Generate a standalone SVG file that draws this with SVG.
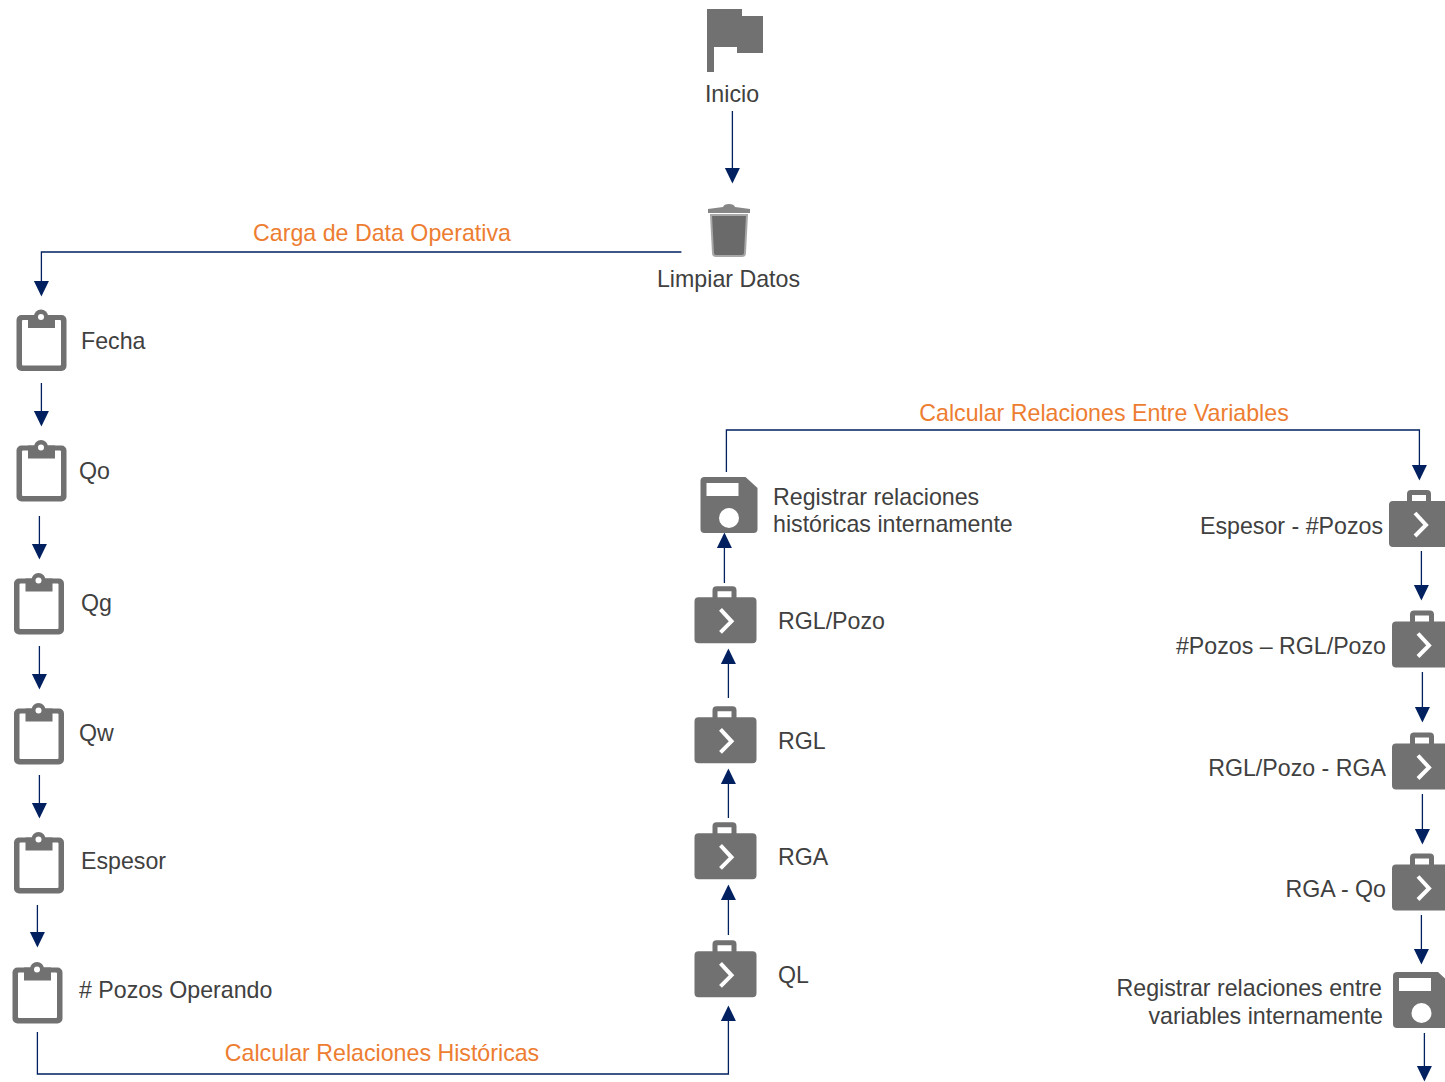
<svg xmlns="http://www.w3.org/2000/svg" xmlns:xlink="http://www.w3.org/1999/xlink" width="1445" height="1082" viewBox="0 0 1445 1082">
<style>
text{font-family:"Liberation Sans",Arial,sans-serif;font-size:23.2px;fill:#404040}
.o{fill:#ED7D31}
.e{text-anchor:end}
.c{text-anchor:middle}
.ln{fill:none;stroke:#002060;stroke-width:1.3;marker-end:url(#ah)}
.g{fill:#717171}
.w{fill:#fff}
.ch{fill:none;stroke:#fff;stroke-width:4}
</style>
<defs>
<marker id="ah" markerUnits="userSpaceOnUse" markerWidth="16" markerHeight="16" refX="0" refY="8" orient="auto"><path d="M0 0.5L15.5 8L0 15.5Z" fill="#002060"/></marker>
<g id="clip"><rect class="g" x="0.500" y="6" width="50" height="56" rx="5"/><rect class="w" x="6" y="11" width="39" height="45.500" rx="1"/><rect class="g" x="12" y="6" width="27" height="13"/><circle class="g" cx="25" cy="7.500" r="7"/><circle class="w" cx="25" cy="8" r="3"/></g>
<g id="case"><path class="g" d="M18 11V4Q18 0 22 0H38Q42 0 42 4V11H58Q62 11 62 15V53Q62 57 58 57H4Q0 57 0 53V15Q0 11 4 11ZM23 11H37V5H23Z" fill-rule="evenodd"/><path class="ch" d="M26 23L37 35L26 46"/></g>
<g id="disk"><path class="g" d="M4 0H45L57 11V52Q57 56 53 56H4Q0 56 0 52V4Q0 0 4 0Z"/><rect class="w" x="6" y="6" width="32" height="13"/><circle class="w" cx="28.500" cy="41" r="10"/></g>
</defs>
<g id="connectors" transform="translate(0.400 0)">
<path class="ln" d="M732 111V168"/>
<path class="ln" d="M681 252H41V281"/>
<path class="ln" d="M41 383V411"/>
<path class="ln" d="M39 516V544"/>
<path class="ln" d="M39 646V674"/>
<path class="ln" d="M39 775V803"/>
<path class="ln" d="M37 905V932"/>
<path class="ln" d="M37 1032V1074H728V1021"/>
<path class="ln" d="M728 935V900"/>
<path class="ln" d="M728 818V784"/>
<path class="ln" d="M728 698V664"/>
<path class="ln" d="M724 583V548"/>
<path class="ln" d="M726 472V430H1419V465"/>
<path class="ln" d="M1421 551V585"/>
<path class="ln" d="M1422 672V707"/>
<path class="ln" d="M1422 794V829"/>
<path class="ln" d="M1421 915V949"/>
<path class="ln" d="M1424 1033V1066"/>
</g>
<g id="n-inicio"><path class="g" d="M707 9H742V16H763V53H737V47H714V72H707Z"/><text class="c" x="732" y="102">Inicio</text></g>
<g id="n-limpiar"><path class="g" d="M723 207Q724 204 729 204Q734 204 735 207L750 209V213H708V209Z" opacity="0.85"/><path d="M711 215H747L745 253Q745 256 742 256H716Q713 256 713 253Z" fill="#6a6a6a" stroke="#a8a8a8" stroke-width="2"/><text class="c" x="728.500" y="287">Limpiar Datos</text></g>
<text class="o c" x="382" y="241">Carga de Data Operativa</text>
<g id="n-fecha"><use xlink:href="#clip" href="#clip" x="16" y="309"/><text x="81" y="349">Fecha</text></g>
<g id="n-qo"><use xlink:href="#clip" href="#clip" x="16" y="439.500"/><text x="79" y="479">Qo</text></g>
<g id="n-qg"><use xlink:href="#clip" href="#clip" x="13.500" y="572.500"/><text x="81" y="611">Qg</text></g>
<g id="n-qw"><use xlink:href="#clip" href="#clip" x="13.500" y="702.500"/><text x="79" y="741">Qw</text></g>
<g id="n-espesor"><use xlink:href="#clip" href="#clip" x="13.500" y="831.500"/><text x="81" y="869">Espesor</text></g>
<g id="n-pozos"><use xlink:href="#clip" href="#clip" x="12" y="961.500"/><text x="79" y="998"># Pozos Operando</text></g>
<text class="o c" x="382" y="1061">Calcular Relaciones Históricas</text>
<g id="n-ql"><use xlink:href="#case" href="#case" x="694.500" y="940.300"/><text x="778" y="983">QL</text></g>
<g id="n-rga"><use xlink:href="#case" href="#case" x="694.500" y="822.300"/><text x="778" y="865">RGA</text></g>
<g id="n-rgl"><use xlink:href="#case" href="#case" x="694.500" y="706.300"/><text x="778" y="749">RGL</text></g>
<g id="n-rglpozo"><use xlink:href="#case" href="#case" x="694.500" y="586.300"/><text x="778" y="629">RGL/Pozo</text></g>
<g id="n-reg1"><use xlink:href="#disk" href="#disk" x="700.500" y="477"/><text x="773" y="505">Registrar relaciones</text><text x="773" y="532">históricas internamente</text></g>
<text class="o c" x="1104" y="421">Calcular Relaciones Entre Variables</text>
<g id="n-espoz"><use xlink:href="#case" href="#case" x="1389" y="490"/><text class="e" x="1383" y="534">Espesor - #Pozos</text></g>
<g id="n-pozrgl"><use xlink:href="#case" href="#case" x="1392" y="610.500"/><text class="e" x="1386" y="654">#Pozos – RGL/Pozo</text></g>
<g id="n-rglrga"><use xlink:href="#case" href="#case" x="1392" y="732.500"/><text class="e" x="1386" y="776">RGL/Pozo - RGA</text></g>
<g id="n-rgaqo"><use xlink:href="#case" href="#case" x="1392" y="853.500"/><text class="e" x="1386" y="897">RGA - Qo</text></g>
<g id="n-reg2"><use xlink:href="#disk" href="#disk" x="1393" y="972"/><text class="e" x="1382" y="996">Registrar relaciones entre</text><text class="e" x="1383" y="1024">variables internamente</text></g>
</svg>
